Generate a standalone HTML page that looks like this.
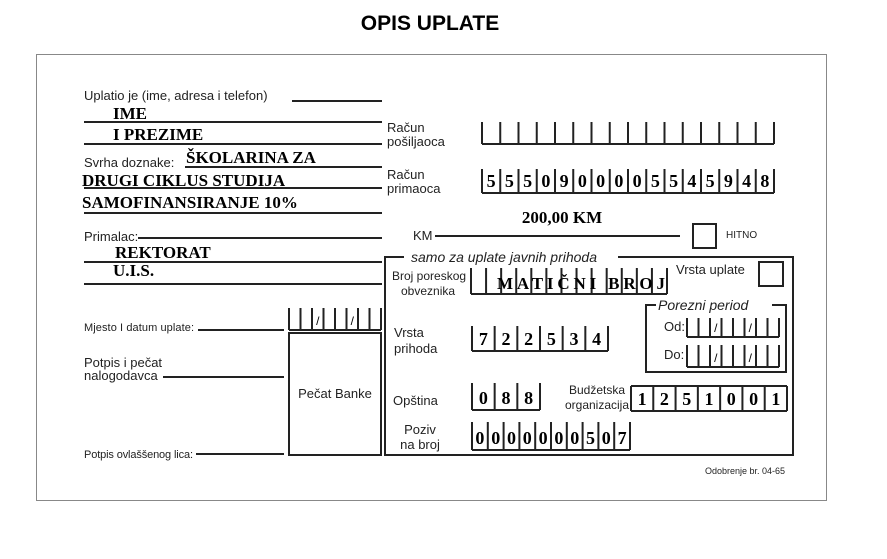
<!DOCTYPE html>
<html><head><meta charset="utf-8"><style>
html,body{margin:0;padding:0;background:#fff;width:887px;height:559px;overflow:hidden}
svg{display:block}
.s{font-family:"Liberation Sans",sans-serif;fill:#222}
.b{font-family:"Liberation Serif",serif;font-weight:bold;fill:#000}
</style></head><body>
<svg id="g" width="887" height="559" viewBox="0 0 887 559" xmlns="http://www.w3.org/2000/svg">
<rect x="36.5" y="54.5" width="790" height="446" fill="none" stroke="#888" stroke-width="1"/>
<text x="430" y="30" text-anchor="middle" style="font-family:'Liberation Sans',sans-serif;font-weight:bold;font-size:21px">OPIS UPLATE</text>
<g stroke="#222" stroke-width="2" fill="none">
<path d="M292 101H382M84 122H382M84 144H382M185 167H382M84 188H382M84 213H382M138 238H382M84 262H382M84 284H382"/>
<path d="M435 236H680"/>
<rect x="693" y="224" width="23" height="24"/>
<rect x="385" y="257" width="408" height="198"/>
<rect x="759" y="262" width="24" height="24"/>
<rect x="646" y="305" width="140" height="67"/>
<rect x="289" y="333" width="92" height="122"/>
<path d="M198 330H284M163 377H284M196 454H284"/>
</g>
<rect x="404" y="250" width="214" height="14" fill="#fff"/>
<rect x="656" y="299" width="116" height="12" fill="#fff"/>
<g id="cells" stroke="#222" stroke-width="2" fill="none"></g>
<text class="s" x="84" y="100" font-size="13">Uplatio je (ime, adresa i telefon)</text>
<text class="s" x="84" y="167" font-size="13">Svrha doznake:</text>
<text class="s" x="84" y="241" font-size="13">Primalac:</text>
<text class="s" x="387" y="132" font-size="13">Račun</text>
<text class="s" x="387" y="146" font-size="13">pošiljaoca</text>
<text class="s" x="387" y="179" font-size="13">Račun</text>
<text class="s" x="387" y="193" font-size="13">primaoca</text>
<text class="s" x="413" y="240" font-size="13">KM</text>
<text class="s" x="726" y="238" font-size="10">HITNO</text>
<text class="s" x="411" y="262" font-size="14" font-style="italic">samo za uplate javnih prihoda</text>
<text class="s" x="392" y="280" font-size="12">Broj poreskog</text>
<text class="s" x="401" y="295" font-size="12">obveznika</text>
<text class="s" x="676" y="274" font-size="13">Vrsta uplate</text>
<text class="s" x="658" y="310" font-size="14" font-style="italic">Porezni period</text>
<text class="s" x="664" y="331" font-size="13">Od:</text>
<text class="s" x="664" y="359" font-size="13">Do:</text>
<text class="s" x="394" y="337" font-size="13">Vrsta</text>
<text class="s" x="394" y="353" font-size="13">prihoda</text>
<text class="s" x="393" y="405" font-size="13">Opština</text>
<text class="s" x="597" y="394" font-size="12" text-anchor="middle">Budžetska</text>
<text class="s" x="597" y="409" font-size="12" text-anchor="middle">organizacija</text>
<text class="s" x="420" y="434" font-size="13" text-anchor="middle">Poziv</text>
<text class="s" x="420" y="449" font-size="13" text-anchor="middle">na broj</text>
<text class="s" x="705" y="474" font-size="9">Odobrenje br. 04-65</text>
<text class="s" x="84" y="331" font-size="11" textLength="110">Mjesto I datum uplate:</text>
<text class="s" x="84" y="367" font-size="13">Potpis i pečat</text>
<text class="s" x="84" y="380" font-size="13">nalogodavca</text>
<text class="s" x="84" y="458" font-size="11" textLength="109">Potpis ovlaššenog lica:</text>
<text class="s" x="335" y="398" font-size="13" text-anchor="middle">Pečat Banke</text>
<g class="b" font-size="17">
<text x="113" y="119">IME</text>
<text x="113" y="140">I PREZIME</text>
<text x="186" y="163">ŠKOLARINA ZA</text>
<text x="82" y="186">DRUGI CIKLUS STUDIJA</text>
<text x="82" y="208">SAMOFINANSIRANJE 10%</text>
<text x="115" y="258">REKTORAT</text>
<text x="113" y="276">U.I.S.</text>
<text x="562" y="223" text-anchor="middle">200,00 KM</text>
<text x="497" y="289" textLength="168" lengthAdjust="spacing">MATIČNI BROJ</text>
</g>
<g id="digits" class="b" font-size="18" text-anchor="middle"></g>
</svg>
<script>
var NS="http://www.w3.org/2000/svg";
var C=document.getElementById("cells"),D=document.getElementById("digits");
function cells(x0,x1,n,yt,yb,digits,slashes,top){
 var w=(x1-x0)/n,d="M"+x0+" "+yb+"H"+x1;
 for(var i=0;i<=n;i++){var x=x0+i*w;d+="M"+x+" "+yt+"V"+yb;}
 if(top)d+="M"+x0+" "+yt+"H"+x1;
 var p=document.createElementNS(NS,"path");p.setAttribute("d",d);C.appendChild(p);
 if(digits){for(var i=0;i<digits.length;i++){var t=document.createElementNS(NS,"text");
  t.setAttribute("x",x0+w*(i+0.5));t.setAttribute("y",yb-6);t.textContent=digits[i];D.appendChild(t);}}
 if(slashes){slashes.forEach(function(i){var t=document.createElementNS(NS,"text");
  t.setAttribute("x",x0+w*i);t.setAttribute("y",yb-5);t.setAttribute("style","font-family:'Liberation Sans',sans-serif;font-weight:normal;font-size:12px");
  t.textContent="/";D.appendChild(t);});}
}
cells(482,774,16,122,144);
cells(482,774,16,169,193,"5550900005545948");
cells(471,667,13,268,294,null,null,false);
cells(472,608,6,326,351,"722534");
cells(472,540,3,383,410,"088");
cells(631,787,7,386,411,"1251001",null,true);
cells(472,630,10,422,450,"0000000507");
cells(687,779,8,318,337,null,[2.5,5.5]);
cells(687,779,8,345,367,null,[2.5,5.5]);
cells(289,381,8,308,330,null,[2.5,5.5]);
</script>
</body></html>
